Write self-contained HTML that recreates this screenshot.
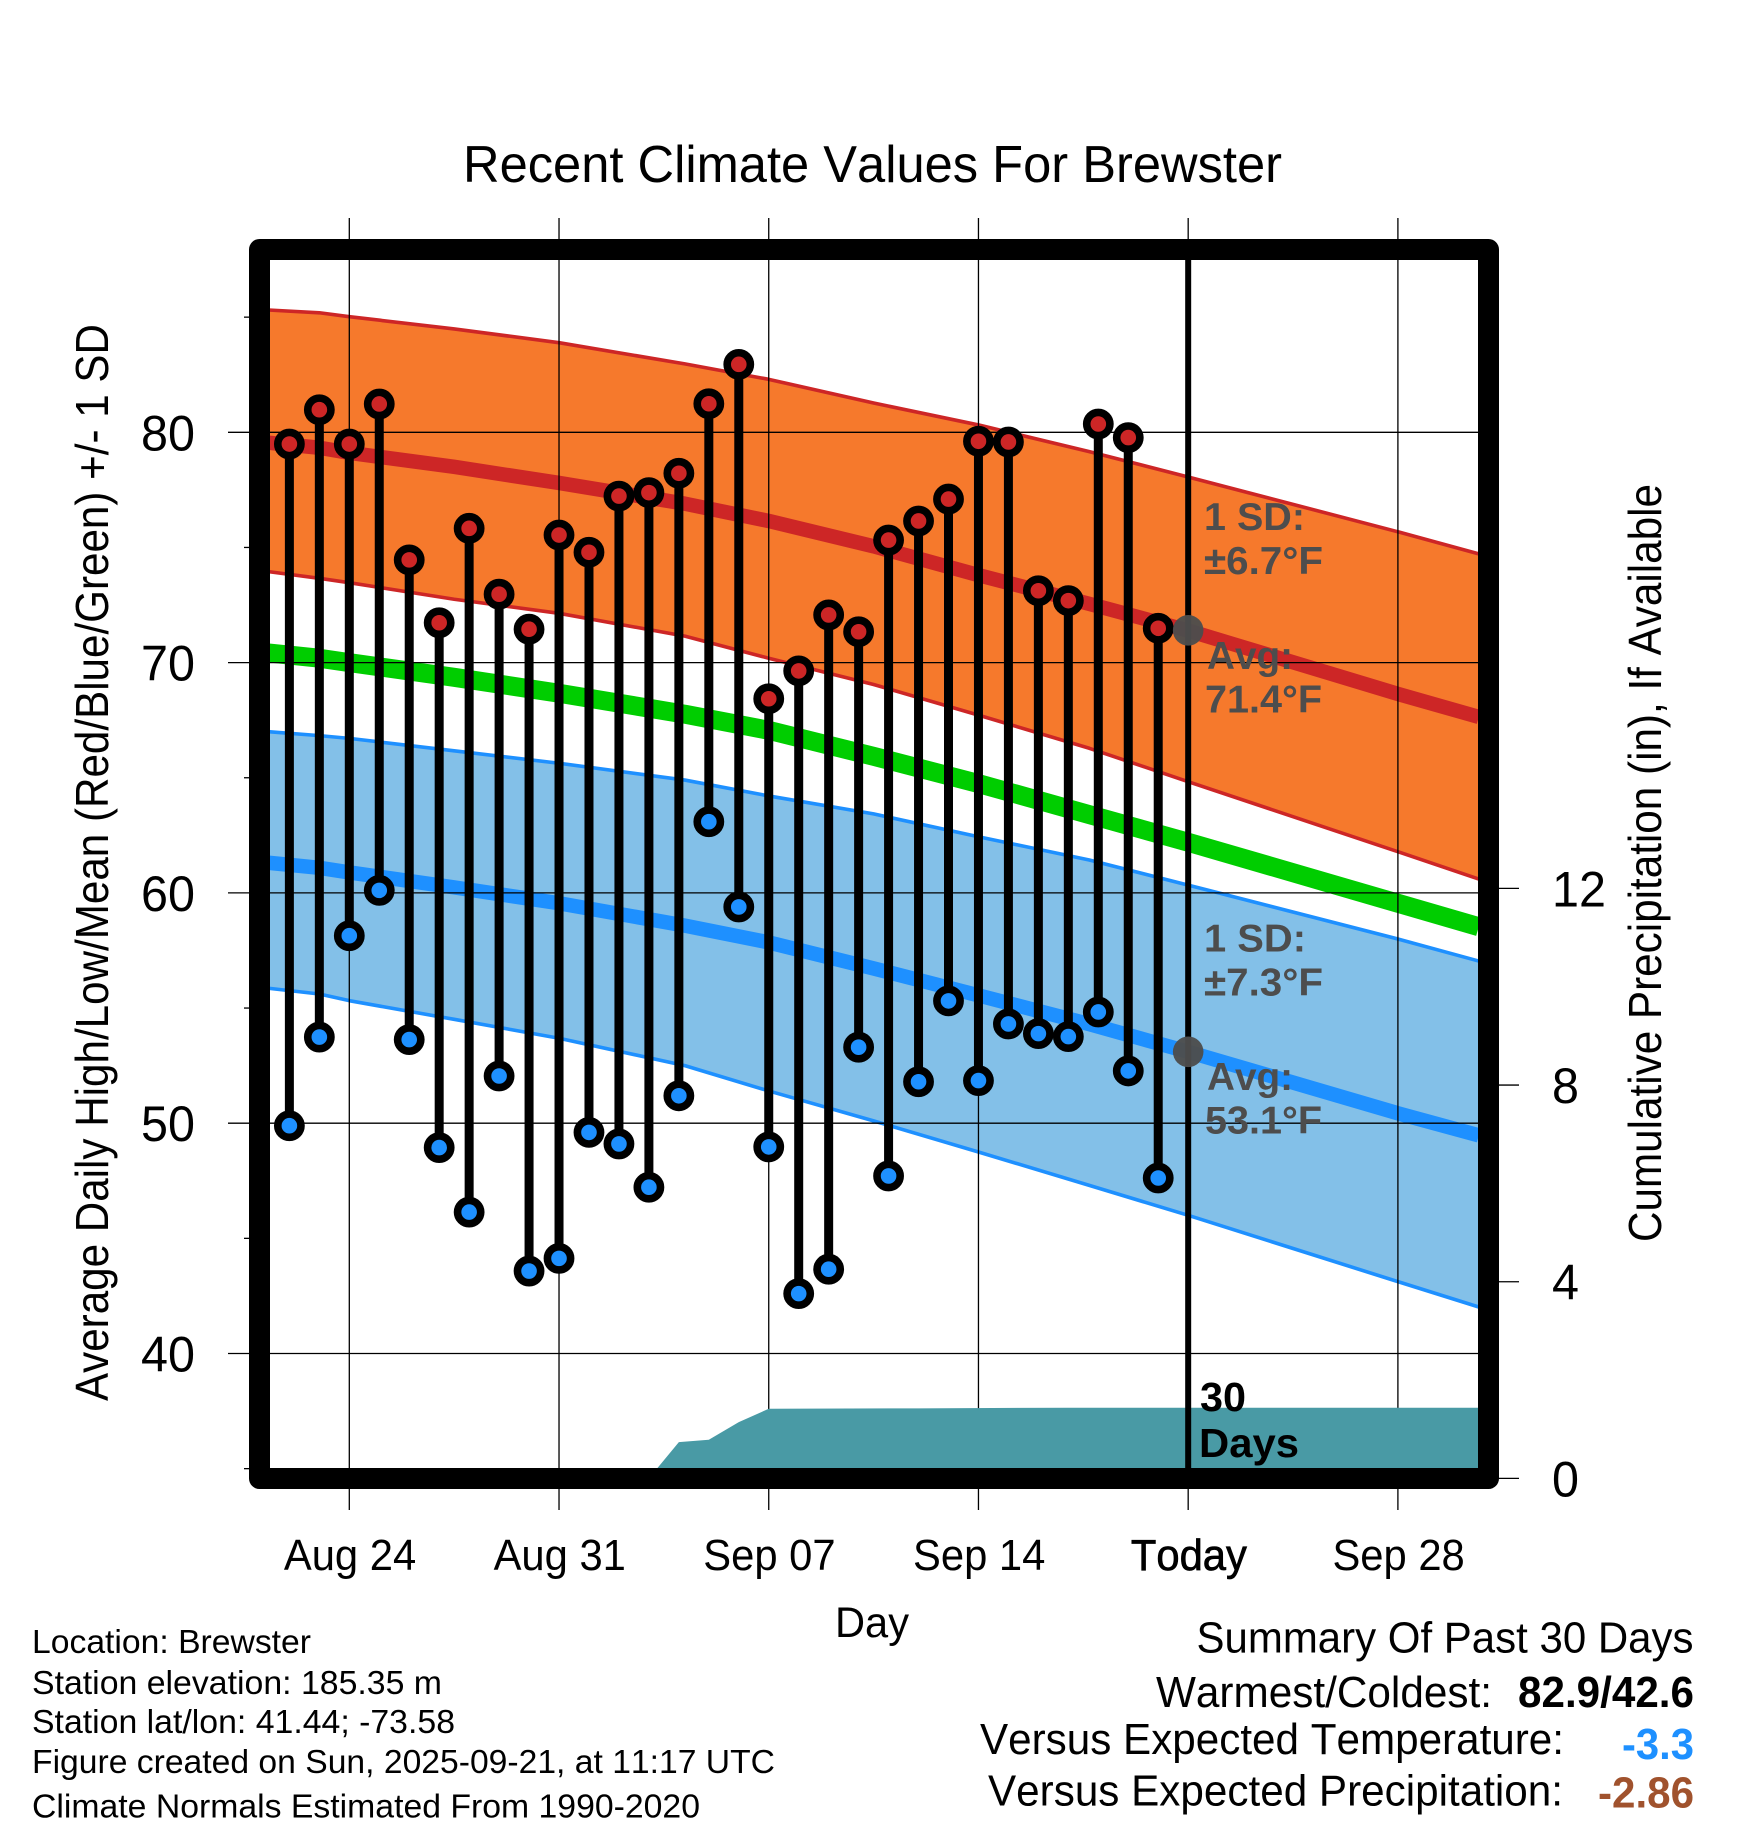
<!DOCTYPE html>
<html lang="en">
<head>
<meta charset="utf-8">
<title>Recent Climate Values For Brewster</title>
<style>
html,body{margin:0;padding:0;background:#fff;}
svg{display:block;}
text{font-family:"Liberation Sans",Arial,sans-serif;fill:#000;font-kerning:none;}
.n{font-size:33.5px;}
.s{font-size:44px;}
.a{font-size:39px;font-weight:bold;fill:#4d4d4d;}
</style>
</head>
<body>
<svg id="chart" xmlns="http://www.w3.org/2000/svg" width="1748" height="1828" viewBox="0 0 1748 1828">
  <rect x="0" y="0" width="1748" height="1828" fill="#fff"/>
  <g id="bands"></g>
  <g id="grid"></g>
  <g id="precip"></g>
  <g id="obs"></g>
  <g id="today"></g>
  <rect x="259.5" y="249.5" width="1229" height="1229" fill="none" stroke="#000" stroke-width="21" stroke-linejoin="round"/>
  <g id="ticks"></g>

  <text x="463" y="182" font-size="52" textLength="819" lengthAdjust="spacingAndGlyphs">Recent Climate Values For Brewster</text>
  <text transform="translate(108,1401) rotate(-90)" font-size="46" textLength="1077" lengthAdjust="spacingAndGlyphs">Average Daily High/Low/Mean (Red/Blue/Green) +/- 1 SD</text>
  <text transform="translate(1661,1242) rotate(-90)" font-size="46" textLength="758" lengthAdjust="spacingAndGlyphs">Cumulative Precipitation (in), If Available</text>
  <text x="835" y="1637" font-size="43" textLength="74" lengthAdjust="spacingAndGlyphs">Day</text>

  <text class="a" x="1204" y="530" textLength="101" lengthAdjust="spacingAndGlyphs">1 SD:</text>
  <text class="a" x="1204" y="574" textLength="119" lengthAdjust="spacingAndGlyphs">±6.7°F</text>
  <text class="a" x="1207" y="669" textLength="86" lengthAdjust="spacingAndGlyphs">Avg:</text>
  <text class="a" x="1205" y="712.7" textLength="117" lengthAdjust="spacingAndGlyphs">71.4°F</text>
  <text class="a" x="1204" y="951.3" textLength="102" lengthAdjust="spacingAndGlyphs">1 SD:</text>
  <text class="a" x="1204" y="995.7" textLength="119" lengthAdjust="spacingAndGlyphs">±7.3°F</text>
  <text class="a" x="1207" y="1090" textLength="86" lengthAdjust="spacingAndGlyphs">Avg:</text>
  <text class="a" x="1205" y="1133.3" textLength="117" lengthAdjust="spacingAndGlyphs">53.1°F</text>

  <text x="1200" y="1411" font-size="41" font-weight="bold" textLength="46" lengthAdjust="spacingAndGlyphs">30</text>
  <text x="1199" y="1457" font-size="41" font-weight="bold" textLength="100" lengthAdjust="spacingAndGlyphs">Days</text>

  <text class="n" x="32" y="1653" textLength="279" lengthAdjust="spacingAndGlyphs">Location: Brewster</text>
  <text class="n" x="32" y="1694" textLength="410" lengthAdjust="spacingAndGlyphs">Station elevation: 185.35 m</text>
  <text class="n" x="32" y="1733" textLength="423" lengthAdjust="spacingAndGlyphs">Station lat/lon: 41.44; -73.58</text>
  <text class="n" x="32" y="1773" textLength="743" lengthAdjust="spacingAndGlyphs">Figure created on Sun, 2025-09-21, at 11:17 UTC</text>
  <text class="n" x="32" y="1817.7" textLength="668" lengthAdjust="spacingAndGlyphs">Climate Normals Estimated From 1990-2020</text>

  <text class="s" x="1196.5" y="1652.3" textLength="497" lengthAdjust="spacingAndGlyphs">Summary Of Past 30 Days</text>
  <text class="s" x="1156" y="1707" textLength="336" lengthAdjust="spacingAndGlyphs">Warmest/Coldest:</text>
  <text class="s" x="1518" y="1707" font-weight="bold" textLength="176" lengthAdjust="spacingAndGlyphs">82.9/42.6</text>
  <text class="s" x="980" y="1754" textLength="584" lengthAdjust="spacingAndGlyphs">Versus Expected Temperature:</text>
  <text class="s" x="1622" y="1759" font-weight="bold" style="fill:#1e90ff" textLength="72" lengthAdjust="spacingAndGlyphs">-3.3</text>
  <text class="s" x="988" y="1805.7" textLength="575" lengthAdjust="spacingAndGlyphs">Versus Expected Precipitation:</text>
  <text class="s" x="1598" y="1807.7" font-weight="bold" style="fill:#a0522d" textLength="96" lengthAdjust="spacingAndGlyphs">-2.86</text>
</svg>

<script>
// Days are counted from Aug 24 (day 0).
const xTickDays = [0, 7, 14, 21, 28, 35];
const xTickLabels = ["Aug 24", "Aug 31", "Sep 07", "Sep 14", "Today", "Sep 28"];
const yMajorTicks = [40, 50, 60, 70, 80];
const yMinorTicks = [35, 45, 55, 65, 75, 85];
const rightTicks = [0, 4, 8, 12];

const firstObsDay = -2;
const obsHigh = [79.49,80.98,79.49,81.23,74.46,71.73,75.83,72.97,71.45,75.54,74.79,77.23,77.38,78.22,81.24,82.95,68.43,69.64,72.07,71.34,75.32,76.15,77.10,79.61,79.58,73.12,72.69,80.36,79.77,71.49];
const obsLow = [49.89,53.74,58.14,60.11,53.63,48.94,46.14,52.05,43.58,44.13,49.60,49.10,47.22,51.19,63.09,59.39,48.97,42.60,43.66,53.30,47.71,51.80,55.31,51.85,54.31,53.89,53.76,54.83,52.27,47.62];

const normalDays = [-2.7,-1,0,3.5,7,11.2,14,17.5,21,24.7,28,35,37.7];
const highUpper = [85.31,85.19,85.02,84.49,83.89,82.97,82.30,81.27,80.32,79.16,78.06,75.68,74.72];
const highMean = [79.55,79.33,79.11,78.50,77.80,76.90,76.15,75.05,73.80,72.55,71.39,68.64,67.64];
const highLower = [73.95,73.66,73.47,72.75,72.14,71.15,70.19,69.05,67.72,66.28,64.83,61.79,60.60];
const overallMean = [70.42,70.19,70.00,69.36,68.67,67.76,67.06,65.93,64.75,63.40,62.20,59.55,58.53];
const lowUpper = [67.00,66.83,66.71,66.17,65.63,64.90,64.21,63.43,62.44,61.43,60.34,58.00,57.04];
const lowMean = [61.31,61.09,60.89,60.24,59.55,58.58,57.85,56.72,55.55,54.30,53.10,50.43,49.47];
const lowLower = [55.86,55.61,55.32,54.51,53.69,52.50,51.40,50.10,48.75,47.30,46.00,43.12,42.02];

const precipDays = [10,11,12,13,14,19,24,37.7];
const precipValues = [0,0.738,0.787,1.145,1.416,1.425,1.438,1.438];

const todayDay = 28;
const todayHighNormal = 71.4;
const todayLowNormal = 53.1;

const NS = "http://www.w3.org/2000/svg";
function xScale(d){ return 349.3 + 29.96 * d; }
function yScale(v){ return 432.3 + (80 - v) * 23.03; }
function precipScale(p){ return 1478.4 - 49.17 * p; }
function make(parent, tag, attrs, txt){
  const el = document.createElementNS(NS, tag);
  for (const k in attrs) el.setAttribute(k, attrs[k]);
  if (txt !== undefined) el.textContent = txt;
  parent.appendChild(el);
  return el;
}
function pts(days, vals, ys){
  return days.map((d, i) => xScale(d).toFixed(2) + "," + ys(vals[i]).toFixed(2));
}
const bands = document.getElementById("bands");
const grid = document.getElementById("grid");
const precip = document.getElementById("precip");
const obs = document.getElementById("obs");
const today = document.getElementById("today");
const ticks = document.getElementById("ticks");

// Filled standard-deviation bands
let el = make(bands, "polygon", {
  points: pts(normalDays, highUpper, yScale).concat(pts(normalDays, highLower, yScale).reverse()).join(" "),
  fill: "#f6792c"
});


el = make(bands, "polygon", {
  points: pts(normalDays, lowUpper, yScale).concat(pts(normalDays, lowLower, yScale).reverse()).join(" "),
  fill: "#83c0e8"
});



// Band edges and mean lines
el = make(bands, "polyline", {points: pts(normalDays, highUpper, yScale).join(" "), fill: "none", stroke: "#cd2626", "stroke-width": 3.6, "stroke-linejoin": "round"});


el = make(bands, "polyline", {points: pts(normalDays, highLower, yScale).join(" "), fill: "none", stroke: "#cd2626", "stroke-width": 3.6, "stroke-linejoin": "round"});


el = make(bands, "polyline", {points: pts(normalDays, lowUpper, yScale).join(" "), fill: "none", stroke: "#1e90ff", "stroke-width": 3.6, "stroke-linejoin": "round"});


el = make(bands, "polyline", {points: pts(normalDays, lowLower, yScale).join(" "), fill: "none", stroke: "#1e90ff", "stroke-width": 3.6, "stroke-linejoin": "round"});


el = make(bands, "polyline", {points: pts(normalDays, highMean, yScale).join(" "), fill: "none", stroke: "#cd2626", "stroke-width": 14.5, "stroke-linejoin": "round"});


el = make(bands, "polyline", {points: pts(normalDays, overallMean, yScale).join(" "), fill: "none", stroke: "#00cd00", "stroke-width": 19, "stroke-linejoin": "round"});


el = make(bands, "polyline", {points: pts(normalDays, lowMean, yScale).join(" "), fill: "none", stroke: "#1e90ff", "stroke-width": 14.5, "stroke-linejoin": "round"});



// Grid lines double as the ticks on the left and bottom
xTickDays.forEach((d, i) => {
  const line = make(grid, "line", {x1: xScale(d), x2: xScale(d), y1: 218, y2: 1510, stroke: "#000", "stroke-width": 1.3});
  
  
  const label = make(ticks, "text", {transform: "translate(" + (xScale(d) + 0.7) + ",1570) scale(0.96,1)", "font-size": 43.5, "text-anchor": "middle"}, xTickLabels[i]);
  
  
  if (d === todayDay) {
    label.setAttribute('stroke', '#000');
    label.setAttribute('stroke-width', '0.7');
  }
});
yMajorTicks.forEach(v => {
  const line = make(grid, "line", {x1: 228, x2: 1478, y1: yScale(v), y2: yScale(v), stroke: "#000", "stroke-width": 1.3});
  
  
  const label = make(ticks, "text", {transform: "translate(195," + (yScale(v) + 18) + ") scale(0.97,1)", "font-size": 50, "text-anchor": "end"}, String(v));
  
  
});
yMinorTicks.forEach(v => {
  const line = make(ticks, "line", {x1: 244, x2: 250, y1: yScale(v), y2: yScale(v), stroke: "#000", "stroke-width": 1.3});
  
  
});
rightTicks.forEach(p => {
  const line = make(ticks, "line", {x1: 1498, x2: 1519, y1: precipScale(p), y2: precipScale(p), stroke: "#000", "stroke-width": 1.3});
  
  
  const label = make(ticks, "text", {transform: "translate(1552," + (precipScale(p) + 18) + ") scale(0.97,1)", "font-size": 50}, String(p));
  
  
});

// Cumulative precipitation area
const precipBase = [xScale(precipDays[precipDays.length - 1]).toFixed(2) + "," + precipScale(0), xScale(precipDays[0]).toFixed(2) + "," + precipScale(0)];
el = make(precip, "polygon", {points: pts(precipDays, precipValues, precipScale).concat(precipBase).join(" "), fill: "#499aa5"});



// Daily high/low lollipops
obsHigh.forEach((h, i) => {
  const x = xScale(firstObsDay + i);
  const stem = make(obs, "line", {x1: x, x2: x, y1: yScale(h), y2: yScale(obsLow[i]), stroke: "#000", "stroke-width": 9});
  
  
});
obsHigh.forEach((h, i) => {
  const x = xScale(firstObsDay + i);
  const hi = make(obs, "circle", {cx: x, cy: yScale(h), r: 11.6, fill: "#cd2626", stroke: "#000", "stroke-width": 7.6});
  
  
  const lo = make(obs, "circle", {cx: x, cy: yScale(obsLow[i]), r: 11.6, fill: "#1e90ff", stroke: "#000", "stroke-width": 7.6});
  
  
});

// Today marker
el = make(today, "line", {x1: xScale(todayDay), x2: xScale(todayDay), y1: 260, y2: 1468, stroke: "#000", "stroke-width": 6});


el = make(today, "circle", {cx: xScale(todayDay), cy: yScale(todayHighNormal), r: 15.3, fill: "#4d4d4d", "fill-opacity": 0.96});


el = make(today, "circle", {cx: xScale(todayDay), cy: yScale(todayLowNormal), r: 15.3, fill: "#4d4d4d", "fill-opacity": 0.96});


</script>
</body>
</html>
